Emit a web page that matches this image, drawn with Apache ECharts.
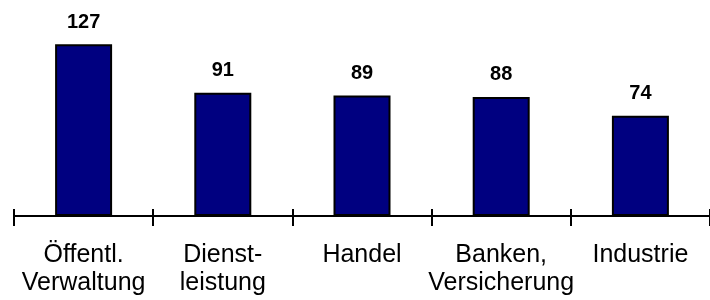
<!DOCTYPE html>
<html>
<head>
<meta charset="utf-8">
<script src="https://cdn.jsdelivr.net/npm/echarts@6/dist/echarts.min.js"></script>
<style>html,body{margin:0;padding:0;background:#fff}#c{width:710px;height:300px}</style>
</head>
<body>
<div id="c"></div>
<script>
var categories = ["Öffentl.\nVerwaltung", "Dienst-\nleistung", "Handel", "Banken,\nVersicherung", "Industrie"];
var values = [127, 91, 89, 88, 74];

var chart = echarts.init(document.getElementById('c'), null, {renderer: 'canvas'});
var font = '"Liberation Sans", Arial, sans-serif';
chart.setOption({
  animation: false,
  backgroundColor: '#ffffff',
  grid: {left: 14, right: 0, top: 13, bottom: 84, containLabel: false},
  xAxis: [{
    type: 'category',
    data: categories,
    position: 'bottom',
    axisLine: {show: true, lineStyle: {color: '#000', width: 2}},
    axisTick: {show: true, length: 10, lineStyle: {color: '#000', width: 2}},
    axisLabel: {color: '#000', fontFamily: font, fontSize: 25, lineHeight: 28, margin: 25, interval: 0}
  }, {
    type: 'category',
    data: categories,
    position: 'bottom',
    axisLine: {show: false},
    axisTick: {show: true, inside: true, length: 7, lineStyle: {color: '#000', width: 2}},
    axisLabel: {show: false}
  }],
  yAxis: {type: 'value', min: 0, max: 150, show: false, splitLine: {show: false}},
  series: [{
    type: 'bar',
    data: values,
    xAxisIndex: 0,
    barWidth: 57,
    itemStyle: {color: '#000080', borderColor: '#000', borderWidth: 2},
    label: {show: true, position: 'top', distance: 12, color: '#000', fontFamily: font, fontSize: 20, fontWeight: 'bold'}
  }]
});
</script>
</body>
</html>
